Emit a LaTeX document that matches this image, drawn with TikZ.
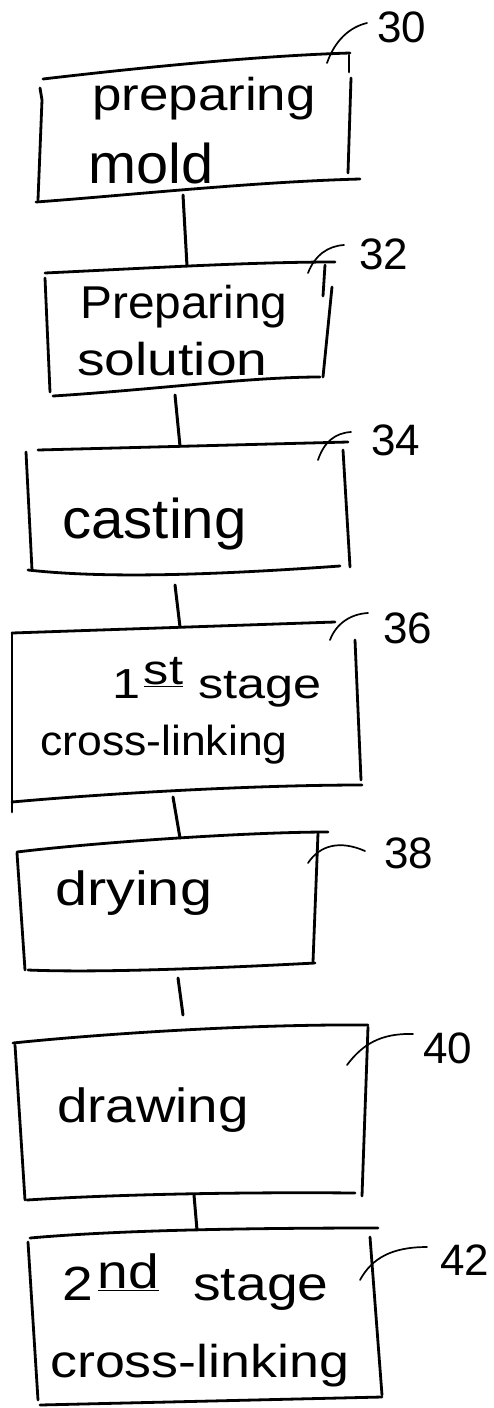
\documentclass[tikz,border=0pt]{standalone}
\usepackage{fontspec}
\setmainfont{Liberation Sans}
\usepackage{graphicx}
\newcommand{\hwt}[3]{\scalebox{#2}[1]{\fontsize{#1}{#1}\selectfont #3}}
\begin{document}
\begin{tikzpicture}[x=1pt,y=-1pt,
 edge/.style={line width=2.8pt,line cap=round,line join=round},
 conn/.style={line width=3pt,line cap=round},
 leader/.style={line width=1.7pt,line cap=round},
 txt/.style={anchor=base west,inner sep=0pt},
 num/.style={inner sep=0pt,font=\fontsize{44}{44}\selectfont}]
\useasboundingbox (0,0) rectangle (494,1408);

% ---------- box 30 ----------
\draw[edge] (43,79) .. controls (120,70) and (250,56) .. (350,53);
\draw[edge] (40,88) -- (42,100) -- (38,200);
\draw[edge] (349,55) -- (349,72);
\draw[edge] (351,78) -- (348,173);
\draw[edge] (36,202) .. controls (120,196) and (250,182) .. (360,179);
\node[txt] (t30a) at (92,110) {\hwt{46}{1.15}{preparing}};
\node[txt] (t30b) at (88,183) {\hwt{56}{1.03}{mold}};

% ---------- box 32 ----------
\draw[edge] (45,273) .. controls (150,268) and (250,262) .. (335,262);
\draw[edge] (45,278) -- (50,392);
\draw[edge] (325,265) -- (323,296);
\draw[edge] (332,287) -- (323,377);
\draw[edge] (53,396) .. controls (150,390) and (250,377) .. (320,377);
\node[txt] (t32a) at (80,318) {\hwt{46}{1.04}{Preparing}};
\node[txt] (t32b) at (77,375) {\hwt{46}{1.2}{solution}};

% ---------- box 34 ----------
\draw[edge] (38,450) -- (348,442);
\draw[edge] (26,452) -- (32,570);
\draw[edge] (343,450) -- (350,567);
\draw[edge] (28,570) .. controls (100,578) and (200,576) .. (340,566);
\node[txt] (t34) at (62,538) {\hwt{56}{1.04}{casting}};

% ---------- box 36 ----------
\draw[edge] (12,633) -- (335,622);
\draw[edge] (12,633) -- (12,812);
\draw[edge] (355,640) -- (361,780);
\draw[edge] (12,802) .. controls (100,794) and (250,785) .. (362,785);
\node[txt] (t36a) at (112,698) {\hwt{42}{1.2}{1\hspace{3pt}\raisebox{14pt}{\underline{st}}\hspace{13pt}stage}};
\node[txt] (t36b) at (40,755) {\hwt{42}{1.06}{cross-linking}};

% ---------- box 38 ----------
\draw[edge] (17,852) .. controls (100,842) and (250,832) .. (328,832);
\draw[edge] (17,853) -- (25,970);
\draw[edge] (318,833) -- (313,962);
\draw[edge] (28,970) .. controls (100,973) and (220,968) .. (315,963);
\node[txt] (t38) at (55,905) {\hwt{48}{1.2}{drying}};

% ---------- box 40 ----------
\draw[edge] (13,1043) .. controls (100,1034) and (250,1024) .. (368,1025);
\draw[edge] (15,1045) -- (25,1200);
\draw[edge] (368,1027) -- (362,1196);
\draw[edge] (27,1200) .. controls (120,1194) and (250,1192) .. (355,1193);
\node[txt] (t40) at (57,1122) {\hwt{48}{1.14}{drawing}};

% ---------- box 42 ----------
\draw[edge] (30,1238) .. controls (120,1230) and (250,1228) .. (378,1228);
\draw[edge] (28,1242) -- (38,1400);
\draw[edge] (370,1237) -- (382,1395);
\draw[edge] (40,1405) -- (382,1397);
\node[txt] (t42a) at (62,1300) {\hwt{48}{1.15}{2\hspace{4pt}\raisebox{12pt}{\underline{nd}}\hspace{30pt}stage}};
\node[txt] (t42b) at (50,1377) {\hwt{46}{1.17}{cross-linking}};

% ---------- connectors ----------
\coordinate (c30s) at (183,195); \coordinate (c32n) at (187,266);
\coordinate (c32s) at (175,395); \coordinate (c34n) at (180,446);
\coordinate (c34s) at (175,585); \coordinate (c36n) at (180,627);
\coordinate (c36s) at (173,797); \coordinate (c38n) at (180,838);
\coordinate (c38s) at (178,978); \coordinate (c40n) at (183,1015);
\coordinate (c40s) at (194,1195); \coordinate (c42n) at (197,1230);
\draw[conn] (c30s) -- (c32n);
\draw[conn] (c32s) -- (c34n);
\draw[conn] (c34s) -- (c36n);
\draw[conn] (c36s) -- (c38n);
\draw[conn] (c38s) -- (c40n);
\draw[conn] (c40s) -- (c42n);

% ---------- reference numerals ----------
\node[num] (n30) at (402,27) {30};
\node[num] (n32) at (384,254) {32};
\node[num] (n34) at (396,440) {34};
\node[num] (n36) at (408,628) {36};
\node[num] (n38) at (409,853) {38};
\node[num] (n40) at (448,1048) {40};
\node[num] (n42) at (465,1260) {42};

\coordinate (l30a) at (327,63);   \coordinate (l30b) at (367,23);
\coordinate (l32a) at (308,273);  \coordinate (l32b) at (344,245);
\coordinate (l34a) at (318,460);  \coordinate (l34b) at (351,432);
\coordinate (l36a) at (330,640);  \coordinate (l36b) at (368,613);
\coordinate (l38a) at (308,863);  \coordinate (l38b) at (365,851);
\coordinate (l40a) at (347,1065); \coordinate (l40b) at (413,1034);
\coordinate (l42a) at (360,1280); \coordinate (l42b) at (427,1247);
\draw[leader] (l30a) .. controls (335,40) and (350,27) .. (l30b);
\draw[leader] (l32a) .. controls (315,255) and (328,246) .. (l32b);
\draw[leader] (l34a) .. controls (324,442) and (335,433) .. (l34b);
\draw[leader] (l36a) .. controls (336,624) and (350,614) .. (l36b);
\draw[leader] (l38a) .. controls (320,845) and (340,840) .. (l38b);
\draw[leader] (l40a) .. controls (362,1045) and (380,1033) .. (l40b);
\draw[leader] (l42a) .. controls (372,1258) and (392,1247) .. (l42b);
\end{tikzpicture}
\end{document}
